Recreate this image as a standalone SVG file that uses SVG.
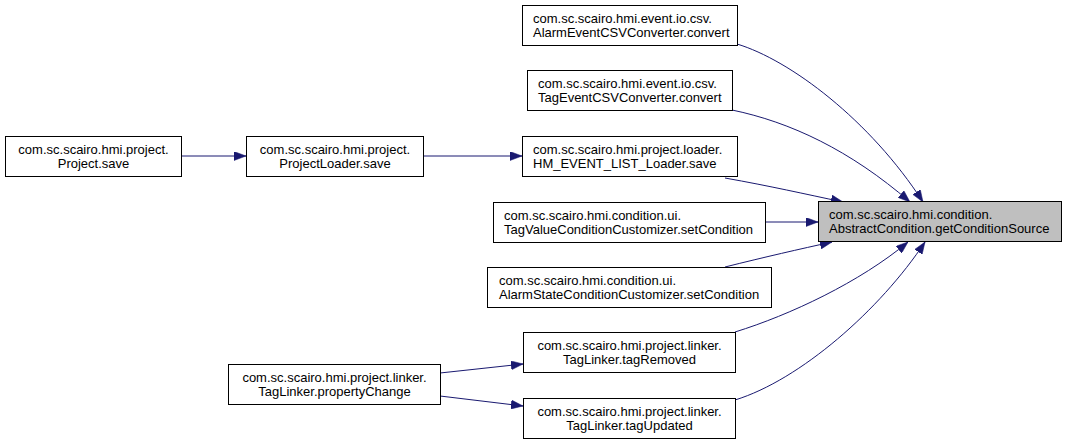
<svg xmlns="http://www.w3.org/2000/svg" width="1067" height="444" viewBox="0 0 1067 444">
<style>
.box{fill:#ffffff;stroke:#000000;stroke-width:1}
.main{fill:#bfbfbf;stroke:#000000;stroke-width:1}
text{font-family:"Liberation Sans",Arial,sans-serif;font-size:13px;fill:#000000}
.c{text-anchor:middle}
.s{text-anchor:start}
.e{fill:none;stroke:#191970;stroke-width:1}
</style>
<defs>
<marker id="arr" markerUnits="userSpaceOnUse" markerWidth="12" markerHeight="9" refX="12" refY="4.5" orient="auto" viewBox="0 0 12 9">
<path d="M0,0 L12,4.5 L0,9 z" fill="#191970" stroke="#191970" stroke-width="0.5"/>
</marker>
</defs>
<rect width="1067" height="444" fill="#ffffff"/>
<g id="edges">
<path class="e" marker-end="url(#arr)" d="M181,156 L246,156"/>
<path class="e" marker-end="url(#arr)" d="M423,156 L522,156"/>
<path class="e" marker-end="url(#arr)" d="M737,44 C790,60 870,120 923,202"/>
<path class="e" marker-end="url(#arr)" d="M732,110 C790,122 850,150 910,202"/>
<path class="e" marker-end="url(#arr)" d="M725,178 C770,186 805,194 843,202"/>
<path class="e" marker-end="url(#arr)" d="M765,222 L818,222"/>
<path class="e" marker-end="url(#arr)" d="M725,267 C765,257 800,249 832,242"/>
<path class="e" marker-end="url(#arr)" d="M735,332 C790,315 860,282 908,242"/>
<path class="e" marker-end="url(#arr)" d="M735,400 C800,380 880,310 925,242"/>
<path class="e" marker-end="url(#arr)" d="M440,373 L523,364"/>
<path class="e" marker-end="url(#arr)" d="M440,396 L523,406"/>
</g>
<g id="n_project">
<rect class="box" x="5.5" y="136.5" width="176" height="40"/>
<text class="c" x="93.5" y="154">com.sc.scairo.hmi.project.</text>
<text class="c" x="93.5" y="168">Project.save</text>
</g>
<g id="n_projectloader">
<rect class="box" x="246.5" y="136.5" width="177" height="40"/>
<text class="c" x="335" y="154">com.sc.scairo.hmi.project.</text>
<text class="c" x="335" y="168">ProjectLoader.save</text>
</g>
<g id="n_alarmcsv">
<rect class="box" x="522.5" y="5.5" width="215" height="40"/>
<text class="s" x="533" y="23">com.sc.scairo.hmi.event.io.csv.</text>
<text class="s" x="533" y="37">AlarmEventCSVConverter.convert</text>
</g>
<g id="n_tagcsv">
<rect class="box" x="527.5" y="70.5" width="205" height="40"/>
<text class="s" x="538" y="88">com.sc.scairo.hmi.event.io.csv.</text>
<text class="s" x="538" y="102">TagEventCSVConverter.convert</text>
</g>
<g id="n_hmevent">
<rect class="box" x="522.5" y="136.5" width="215" height="40"/>
<text class="s" x="533" y="154">com.sc.scairo.hmi.project.loader.</text>
<text class="s" x="533" y="168">HM_EVENT_LIST_Loader.save</text>
</g>
<g id="n_tagvalue">
<rect class="box" x="493.5" y="202.5" width="272" height="40"/>
<text class="s" x="504" y="220">com.sc.scairo.hmi.condition.ui.</text>
<text class="s" x="504" y="234">TagValueConditionCustomizer.setCondition</text>
</g>
<g id="n_alarmstate">
<rect class="box" x="487.5" y="267.5" width="284" height="40"/>
<text class="s" x="499" y="285">com.sc.scairo.hmi.condition.ui.</text>
<text class="s" x="499" y="299">AlarmStateConditionCustomizer.setCondition</text>
</g>
<g id="n_tagremoved">
<rect class="box" x="523.5" y="332.5" width="212" height="40"/>
<text class="c" x="629.5" y="350">com.sc.scairo.hmi.project.linker.</text>
<text class="c" x="629.5" y="364">TagLinker.tagRemoved</text>
</g>
<g id="n_tagupdated">
<rect class="box" x="523.5" y="398.5" width="212" height="40"/>
<text class="c" x="629.5" y="416">com.sc.scairo.hmi.project.linker.</text>
<text class="c" x="629.5" y="430">TagLinker.tagUpdated</text>
</g>
<g id="n_propertychange">
<rect class="box" x="228.5" y="364.5" width="212" height="40"/>
<text class="c" x="334.5" y="382">com.sc.scairo.hmi.project.linker.</text>
<text class="c" x="334.5" y="396">TagLinker.propertyChange</text>
</g>
<g id="n_abstract">
<rect class="main" x="818.5" y="201.5" width="243" height="40"/>
<text class="s" x="829" y="219">com.sc.scairo.hmi.condition.</text>
<text class="s" x="829" y="233">AbstractCondition.getConditionSource</text>
</g>
</svg>
